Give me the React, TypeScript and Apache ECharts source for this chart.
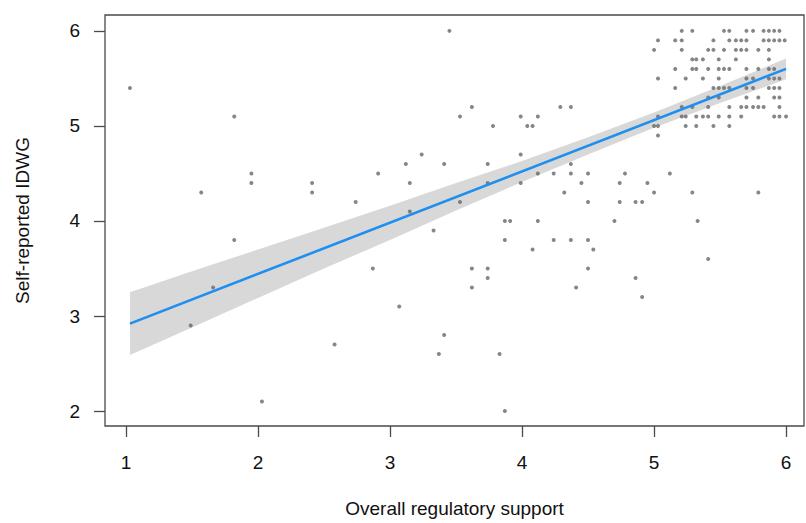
import React, { useEffect, useRef } from "react";
import * as echarts from "echarts";

// Tick labels
const xTicks = [1, 2, 3, 4, 5, 6];
const yTicks = [2, 3, 4, 5, 6];

// Scatter points [overall regulatory support, self-reported IDWG]
const scatterPoints: [number, number][] = [
  // dense cluster
  [5.21, 6.0], [5.29, 6.0], [5.53, 6.0], [5.57, 6.0], [5.70, 6.0], [5.75, 6.0], [5.83, 6.0], [5.87, 6.0], [5.91, 6.0], [5.95, 6.0],
  [5.03, 5.9], [5.16, 5.9], [5.21, 5.9], [5.45, 5.9], [5.57, 5.9], [5.62, 5.9], [5.66, 5.9], [5.70, 5.9], [5.83, 5.9], [5.87, 5.9], [5.91, 5.9], [5.95, 5.9], [5.99, 5.9],
  [5.00, 5.8], [5.21, 5.8], [5.41, 5.8], [5.45, 5.8], [5.53, 5.8], [5.62, 5.8], [5.66, 5.8], [5.70, 5.8], [5.79, 5.8], [5.87, 5.8],
  [5.29, 5.7], [5.32, 5.7], [5.37, 5.7], [5.49, 5.7], [5.62, 5.7], [5.87, 5.7],
  [5.16, 5.6], [5.29, 5.6], [5.32, 5.6], [5.41, 5.6], [5.49, 5.6], [5.53, 5.6], [5.57, 5.6], [5.70, 5.6], [5.79, 5.6], [5.87, 5.6], [5.91, 5.6],
  [5.03, 5.5], [5.24, 5.5], [5.37, 5.5], [5.49, 5.5], [5.70, 5.5], [5.75, 5.5], [5.87, 5.5], [5.91, 5.5], [5.95, 5.5],
  [5.16, 5.4], [5.45, 5.4], [5.49, 5.4], [5.53, 5.4], [5.57, 5.4], [5.70, 5.4], [5.75, 5.4], [5.87, 5.4], [5.91, 5.4], [5.95, 5.4],
  [5.41, 5.3], [5.49, 5.3], [5.70, 5.3], [5.79, 5.3], [5.91, 5.3], [5.95, 5.3],
  [5.21, 5.2], [5.29, 5.2], [5.41, 5.2], [5.57, 5.2], [5.66, 5.2], [5.70, 5.2], [5.75, 5.2], [5.79, 5.2], [5.83, 5.2], [5.95, 5.2],
  [5.03, 5.1], [5.21, 5.1], [5.24, 5.1], [5.32, 5.1], [5.37, 5.1], [5.41, 5.1], [5.49, 5.1], [5.57, 5.1], [5.66, 5.1], [5.91, 5.1], [5.95, 5.1], [6.0, 5.1],
  [5.00, 5.0], [5.03, 5.0], [5.24, 5.0], [5.32, 5.0], [5.45, 5.0], [5.57, 5.0],
  [5.03, 4.9],
  // scattered points
  [1.03, 5.4], [1.82, 5.1], [1.95, 4.5], [1.95, 4.4], [1.57, 4.3], [2.41, 4.4], [2.41, 4.3], [2.74, 4.2],
  [1.82, 3.8], [1.66, 3.3], [1.49, 2.9], [2.58, 2.7], [2.03, 2.1],
  [3.45, 6.0], [3.62, 5.2], [3.53, 5.1], [3.99, 5.1], [4.12, 5.1], [3.78, 5.0], [4.04, 5.0], [4.08, 5.0], [4.29, 5.2], [4.37, 5.2],
  [3.24, 4.7], [3.12, 4.6], [3.41, 4.6], [3.74, 4.6], [3.99, 4.7], [4.37, 4.6],
  [2.91, 4.5], [3.15, 4.4], [3.74, 4.4], [3.99, 4.4], [4.12, 4.5], [4.24, 4.5], [4.37, 4.5], [4.50, 4.5], [4.78, 4.5], [4.45, 4.4], [4.74, 4.4], [4.32, 4.3],
  [3.53, 4.2], [4.50, 4.2], [4.74, 4.2], [4.86, 4.2], [3.15, 4.1], [3.33, 3.9], [3.87, 4.0], [3.91, 4.0], [4.12, 4.0], [4.70, 4.0],
  [3.87, 3.8], [4.08, 3.7], [4.24, 3.8], [4.37, 3.8], [4.50, 3.8], [4.54, 3.7],
  [2.87, 3.5], [3.62, 3.5], [3.74, 3.5], [3.74, 3.4], [3.62, 3.3], [4.50, 3.5], [4.41, 3.3], [4.86, 3.4],
  [3.07, 3.1], [3.41, 2.8], [3.37, 2.6], [3.83, 2.6], [3.87, 2.0],
  [5.12, 4.5], [4.95, 4.4], [5.00, 4.3], [5.29, 4.3], [5.79, 4.3], [4.91, 4.2], [5.33, 4.0], [5.41, 3.6], [4.91, 3.2],
];

// Fitted regression line
const fitX = [1.03, 6.0];
const fitY = [2.92, 5.6];

// Confidence band
const bandX = [1.03, 1.5, 2, 2.5, 3, 3.5, 4, 4.5, 5, 5.5, 6];
const bandLower = [2.59, 2.88, 3.19, 3.5, 3.8, 4.11, 4.41, 4.7, 4.98, 5.24, 5.49];
const bandUpper = [3.25, 3.47, 3.7, 3.93, 4.16, 4.4, 4.63, 4.88, 5.14, 5.42, 5.71];

const FONT = "'Liberation Sans', Arial, sans-serif";

export default function App() {
  const ref = useRef<HTMLDivElement>(null);

  useEffect(() => {
    if (!ref.current) return;
    const chart = echarts.init(ref.current, undefined, { renderer: "svg" });
    const bandData = bandX.map((x, i) => [x, bandLower[i], bandUpper[i]]);

    chart.setOption({
      animation: false,
      backgroundColor: "#ffffff",
      grid: {
        left: 105,
        top: 15,
        right: 2,
        bottom: 94,
        show: true,
        borderColor: "#4a4a4a",
        borderWidth: 1.3,
        backgroundColor: "transparent",
      },
      xAxis: {
        type: "value",
        min: 0.841,
        max: 6.136,
        name: "Overall regulatory support",
        nameLocation: "middle",
        nameGap: 73,
        nameTextStyle: { fontFamily: FONT, fontSize: 19, color: "#111" },
        axisLine: { show: false },
        axisTick: {
          show: true,
          length: 11,
          inside: false,
          customValues: xTicks,
          lineStyle: { color: "#4a4a4a", width: 1.3 },
        },
        axisLabel: {
          customValues: xTicks,
          margin: 27,
          fontFamily: FONT,
          fontSize: 19,
          color: "#111",
        },
        splitLine: { show: false },
      },
      yAxis: {
        type: "value",
        min: 1.843,
        max: 6.167,
        name: "Self-reported IDWG",
        nameLocation: "middle",
        nameRotate: 90,
        nameGap: 73,
        nameTextStyle: { fontFamily: FONT, fontSize: 19, color: "#111" },
        axisLine: { show: false },
        axisTick: {
          show: true,
          length: 11,
          inside: false,
          customValues: yTicks,
          lineStyle: { color: "#4a4a4a", width: 1.3 },
        },
        axisLabel: {
          customValues: yTicks,
          margin: 25,
          fontFamily: FONT,
          fontSize: 19,
          color: "#111",
        },
        splitLine: { show: false },
      },
      series: [
        {
          type: "custom",
          name: "band",
          z: 1,
          silent: true,
          data: bandData,
          encode: { x: 0, y: [1, 2] },
          renderItem: (params: any, api: any) => {
            if (params.dataIndex !== 0) return null;
            const upper = bandData.map((d) => api.coord([d[0], d[2]]));
            const lower = bandData
              .slice()
              .reverse()
              .map((d) => api.coord([d[0], d[1]]));
            return {
              type: "polygon",
              shape: { points: upper.concat(lower), smooth: 0 },
              style: { fill: "#d8d8d8", stroke: "none" },
            };
          },
        },
        {
          type: "scatter",
          z: 2,
          data: scatterPoints,
          symbol: "circle",
          symbolSize: 4,
          itemStyle: { color: "#686868" },
          silent: true,
        },
        {
          type: "line",
          z: 3,
          data: fitX.map((x, i) => [x, fitY[i]]),
          showSymbol: false,
          symbol: "none",
          lineStyle: { color: "#1e8ef0", width: 2.6 },
          silent: true,
        },
      ],
    });

    return () => chart.dispose();
  }, []);

  return (
    <div
      ref={ref}
      style={{ position: "fixed", left: 0, top: 0, width: 806, height: 523 }}
    />
  );
}
